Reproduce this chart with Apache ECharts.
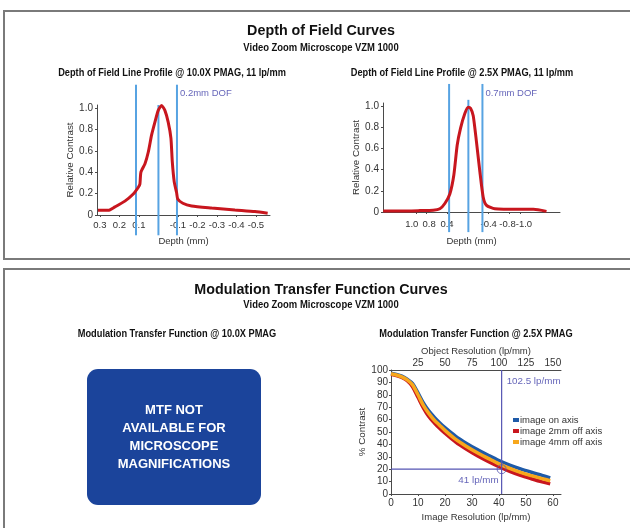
<!DOCTYPE html>
<html><head><meta charset="utf-8">
<script src="https://cdn.jsdelivr.net/npm/echarts@6/dist/echarts.min.js"></script>
<style>html,body{margin:0;padding:0;background:#fff}#c{width:630px;height:528px}</style>
</head><body><div id="c"></div>
<script>
// ---- Depth of field @ 10.0X ----
const dof10Depth = [0.31, 0.257, 0.223, 0.172, 0.129, 0.103, 0.095, 0.09, 0.069, 0.052, 0.035, 0.018, 0.001, -0.016, -0.033, -0.05, -0.064, -0.071, -0.081, -0.093, -0.099, -0.125, -0.17, -0.273, -0.392, -0.495, -0.56];
const dof10Contrast = [0.044, 0.044, 0.076, 0.13, 0.196, 0.26, 0.29, 0.40, 0.48, 0.59, 0.75, 0.87, 0.98, 1.025, 0.98, 0.87, 0.72, 0.50, 0.31, 0.21, 0.15, 0.11, 0.085, 0.066, 0.047, 0.032, 0.016];
const dof10Lines = [0.115, 0, -0.095];
const dof10Ticks = [0.3, 0.2, 0.1, -0.1, -0.2, -0.3, -0.4, -0.5];
const dof10Label = '0.2mm DOF';
// ---- Depth of field @ 2.5X ----
const dof25Depth = [1.625, 1.308, 0.923, 0.666, 0.538, 0.442, 0.346, 0.269, 0.205, 0.141, 0.058, -0.007, -0.051, -0.103, -0.166, -0.231, -0.295, -0.359, -0.519, -1.0, -1.26, -1.51];
const dof25Contrast = [0.01, 0.01, 0.013, 0.016, 0.03, 0.08, 0.17, 0.35, 0.63, 0.79, 0.93, 0.99, 0.98, 0.91, 0.66, 0.38, 0.14, 0.063, 0.03, 0.025, 0.025, 0.006];
const dof25Lines = [0.36, -0.01, -0.28];
const dof25Ticks = [0.8, 0.4, -0.4, -0.8];
const dof25OuterTicks = [1.0, -1.0];
const dof25Label = '0.7mm DOF';
const contrastTicks = [0, 0.2, 0.4, 0.6, 0.8, 1.0];
// ---- MTF @ 2.5X ----
const mtfImageRes = [0, 2, 4, 6, 8, 10, 12, 14, 16, 18, 20, 24, 28, 32, 36, 40, 44, 48, 52, 56, 59];
const mtfOnAxis = [97.5, 96.5, 95, 92.5, 89, 81.5, 73.5, 67, 62, 57.5, 53.5, 46.5, 40.8, 35.8, 31.3, 27, 23.3, 20.2, 17.5, 15, 13];
const mtf2mm = [96.5, 95.5, 94, 91.3, 86.5, 78, 69.5, 62.5, 57.5, 53, 49, 41.8, 36, 30.8, 26.2, 22, 18.3, 15, 12.3, 9.8, 8.3];
const mtf4mm = [97, 96, 94.5, 92, 88, 80, 71.5, 65, 59.7, 55.5, 51.3, 44, 38.3, 33.2, 28.7, 24.3, 20.6, 17.4, 14.8, 12.4, 10.7];
const mtfNames = ['image on axis', 'image 2mm off axis', 'image 4mm off axis'];
const mtfCutImage = 41, mtfCutObject = 102.5, mtfCutContrast = 20;
const imageResTicks = [0, 10, 20, 30, 40, 50, 60];
const objectResTicks = [25, 50, 75, 100, 125, 150];
const pctTicks = [0, 10, 20, 30, 40, 50, 60, 70, 80, 90, 100];

const FF = '"Liberation Sans", Arial, sans-serif';
const AX = '#4a4a4a', TXT = '#333', BLUE = '#57a3e2', RED = '#c8161e', PURP = '#5555b3', LBL = '#3c3ca6';
// horizontal nudges (px) of some 2.5X depth labels, to mimic the hand-placed labels of the original
const dof25LabelNudge = { '1.0': -4, '0.8': 3, '-0.8': -2, '-1.0': 4 };

const zip = (a, b) => a.map((v, i) => [v, b[i]]);
const fmt1 = v => v === 0 ? '0' : v.toFixed(1);
const nudgeFmt = v => {
  const s = fmt1(v), n = dof25LabelNudge[s] || 0;
  return n < 0 ? '{l' + (-n) + '|' + s + '}' : n > 0 ? '{r' + n + '|' + s + '}' : '{c|' + s + '}';
};
const nudgeRich = (() => {
  const r = { c: { color: TXT, fontSize: 9.5, fontFamily: FF } };
  for (let i = 1; i <= 6; i++) {
    r['l' + i] = { padding: [0, 2 * i, 0, 0], color: TXT, fontSize: 9.5, fontFamily: FF };
    r['r' + i] = { padding: [0, 0, 0, 2 * i], color: TXT, fontSize: 9.5, fontFamily: FF };
  }
  return r;
})();

function dofX(grid, min, max, ticks, margin, gap, nudge) {
  const a = {
    gridIndex: grid, type: 'value', position: 'bottom', inverse: true, min: min, max: max,
    axisLine: { onZero: true, lineStyle: { color: AX, width: 1 } },
    axisTick: { show: true, length: 2, customValues: ticks, lineStyle: { color: AX } },
    axisLabel: { customValues: ticks, formatter: fmt1, color: TXT, fontSize: 9.5, fontFamily: FF, margin: margin, hideOverlap: false },
    splitLine: { show: false },
    name: 'Depth (mm)', nameLocation: 'middle', nameGap: gap,
    nameTextStyle: { color: TXT, fontSize: 9.5, fontFamily: FF }
  };
  if (nudge) { a.axisLabel.formatter = nudgeFmt; a.axisLabel.rich = nudgeRich; }
  return a;
}
function dofY(grid) {
  return {
    gridIndex: grid, type: 'value', min: 0, max: 1.03,
    axisLine: { show: true, onZero: false, lineStyle: { color: AX, width: 1 } },
    axisTick: { show: true, length: 2, customValues: contrastTicks, lineStyle: { color: AX } },
    axisLabel: { customValues: contrastTicks, formatter: fmt1, color: TXT, fontSize: 10, fontFamily: FF, margin: 4 },
    splitLine: { show: false },
    name: 'Relative Contrast', nameLocation: 'middle', nameGap: 20, nameRotate: 90,
    nameTextStyle: { color: TXT, fontSize: 9.8, fontFamily: FF }
  };
}
function dofSeries(idx, depth, contrast, lines, lineTops, arrowY, labelY, label) {
  const out = [];
  lines.forEach((x, i) => {
    const s = {
      type: 'line', xAxisIndex: idx, yAxisIndex: idx, clip: false, silent: true,
      symbol: 'none', lineStyle: { color: BLUE, width: 2 },
      data: [[x, -0.19], [x, lineTops[i]]], z: 2
    };
    if (i === 0) {
      s.markLine = {
        silent: true, symbol: ['arrow', 'arrow'], symbolSize: [6, 8],
        lineStyle: { color: '#222', width: 1, type: 'solid' }, label: { show: false },
        data: [[{ coord: [lines[0], arrowY] }, { coord: [lines[2], arrowY] }]]
      };
    }
    out.push(s);
  });
  out.push({
    type: 'line', xAxisIndex: idx, yAxisIndex: idx, clip: false, smooth: 0.2,
    symbol: 'none', lineStyle: { color: RED, width: 3 }, data: zip(depth, contrast), z: 3
  });
  out.push({
    type: 'scatter', xAxisIndex: idx, yAxisIndex: idx, clip: false, symbolSize: 0,
    data: [[lines[2], labelY]],
    label: { show: true, position: 'right', distance: 3, formatter: label, color: LBL, fontSize: 9.5, fontFamily: FF }
  });
  return out;
}

const dof25Outer = dofX(1, -1.769, 1.629, dof25OuterTicks, 7, 24, true);
dof25Outer.axisLine.show = false;
delete dof25Outer.name;

const option = {
  animation: false,
  grid: [
    { left: 97, top: 105, width: 173, height: 110 },
    { left: 383, top: 103, width: 177, height: 109 },
    { left: 391, top: 370, width: 170, height: 124 }
  ],
  xAxis: [
    dofX(0, -0.572, 0.315, dof10Ticks, 5, 21),
    dofX(1, -1.769, 1.629, dof25Ticks, 7, 24, true),
    {
      gridIndex: 2, type: 'value', min: 0, max: 63,
      axisLine: { onZero: false, lineStyle: { color: AX } },
      axisTick: { length: 2, customValues: imageResTicks, lineStyle: { color: AX } },
      axisLabel: { customValues: imageResTicks, color: TXT, fontSize: 10, fontFamily: FF, margin: 4 },
      splitLine: { show: false },
      name: 'Image Resolution (lp/mm)', nameLocation: 'middle', nameGap: 18,
      nameTextStyle: { color: TXT, fontSize: 9.5, fontFamily: FF }
    },
    {
      gridIndex: 2, type: 'value', position: 'top', min: 0, max: 157.5,
      axisLine: { onZero: false, lineStyle: { color: AX } },
      axisTick: { show: false },
      axisLabel: { customValues: objectResTicks, color: TXT, fontSize: 10, fontFamily: FF, margin: 2 },
      splitLine: { show: false },
      name: 'Object Resolution (lp/mm)', nameLocation: 'middle', nameGap: 14,
      nameTextStyle: { color: TXT, fontSize: 9.5, fontFamily: FF }
    },
    dof25Outer
  ],
  yAxis: [
    dofY(0), dofY(1),
    {
      gridIndex: 2, type: 'value', min: 0, max: 100,
      axisLine: { show: true, onZero: false, lineStyle: { color: AX } },
      axisTick: { show: true, length: 2, customValues: pctTicks, lineStyle: { color: AX } },
      axisLabel: { customValues: pctTicks, color: TXT, fontSize: 10, fontFamily: FF, margin: 3 },
      splitLine: { show: false },
      name: '% Contrast', nameLocation: 'middle', nameGap: 20, nameRotate: 90,
      nameTextStyle: { color: TXT, fontSize: 9.8, fontFamily: FF }
    }
  ],
  legend: {
    left: 508, top: 410, orient: 'vertical', itemWidth: 6, itemHeight: 4, itemGap: 1,
    icon: 'rect', data: mtfNames, selectedMode: false,
    textStyle: { color: TXT, fontSize: 9.5, fontFamily: FF, padding: [0, 0, 0, -4] }
  },
  series: [
    ...dofSeries(0, dof10Depth, dof10Contrast, dof10Lines, [1.22, 1.03, 1.22], 1.16, 1.135, dof10Label),
    ...dofSeries(1, dof25Depth, dof25Contrast, dof25Lines, [1.21, 1.06, 1.21], 1.155, 1.12, dof25Label),
    { name: mtfNames[0], type: 'line', xAxisIndex: 2, yAxisIndex: 2, smooth: 0.3, symbol: 'none',
      color: '#1e5aa8', lineStyle: { width: 3.5, color: '#1e5aa8' }, data: zip(mtfImageRes, mtfOnAxis), z: 3 },
    { name: mtfNames[1], type: 'line', xAxisIndex: 2, yAxisIndex: 2, smooth: 0.3, symbol: 'none',
      color: '#c8161e', lineStyle: { width: 3.5, color: '#c8161e' }, data: zip(mtfImageRes, mtf2mm), z: 3 },
    { name: mtfNames[2], type: 'line', xAxisIndex: 2, yAxisIndex: 2, smooth: 0.3, symbol: 'none',
      color: '#f7a71c', lineStyle: { width: 3.5, color: '#f7a71c' }, data: zip(mtfImageRes, mtf4mm), z: 4 },
    { type: 'line', xAxisIndex: 2, yAxisIndex: 2, symbol: 'none', silent: true, z: 5,
      lineStyle: { color: PURP, width: 1.2 }, data: [[mtfCutImage, 0], [mtfCutImage, 100]] },
    { type: 'line', xAxisIndex: 2, yAxisIndex: 2, symbol: 'none', silent: true, z: 5,
      lineStyle: { color: PURP, width: 1.2 }, data: [[0, mtfCutContrast], [mtfCutImage, mtfCutContrast]] },
    { type: 'scatter', xAxisIndex: 2, yAxisIndex: 2, symbol: 'circle', symbolSize: 9, z: 6, silent: true,
      itemStyle: { color: 'rgba(0,0,0,0)', borderColor: PURP, borderWidth: 1 },
      data: [[mtfCutImage, mtfCutContrast]] },
    { type: 'scatter', xAxisIndex: 2, yAxisIndex: 2, symbolSize: 0, z: 6, silent: true,
      data: [[mtfCutImage, 90.5]],
      label: { show: true, position: 'right', distance: 5, formatter: mtfCutObject + ' lp/mm', color: LBL, fontSize: 9.8, fontFamily: FF } },
    { type: 'scatter', xAxisIndex: 2, yAxisIndex: 2, symbolSize: 0, z: 6, silent: true,
      data: [[mtfCutImage, 11.3]],
      label: { show: true, position: 'left', distance: 3, formatter: mtfCutImage + ' lp/mm', color: LBL, fontSize: 9.8, fontFamily: FF } }
  ],
  graphic: [
    { type: 'rect', shape: { x: 4, y: 11, width: 700, height: 248 }, style: { fill: 'none', stroke: '#7a7a7a', lineWidth: 2 }, silent: true },
    { type: 'rect', shape: { x: 4, y: 269, width: 700, height: 300 }, style: { fill: 'none', stroke: '#7a7a7a', lineWidth: 2 }, silent: true },
    { type: 'rect', shape: { x: 87, y: 369, width: 174, height: 136, r: 11 }, style: { fill: '#1b449b' }, silent: true },
    { type: 'text', x: 174, y: 437, silent: true, style: { text: 'MTF NOT\nAVAILABLE FOR\nMICROSCOPE\nMAGNIFICATIONS', fill: '#fff',
      font: 'bold 13px ' + FF, lineHeight: 18, align: 'center', verticalAlign: 'middle', textAlign: 'center', textVerticalAlign: 'middle' } },
    ...[
      ['Depth of Field Curves', 321, 31, 'bold 14.3px ' + FF, 1],
      ['Video Zoom Microscope VZM 1000', 321, 48, 'bold 10.5px ' + FF, 0.9],
      ['Depth of Field Line Profile @ 10.0X PMAG, 11 lp/mm', 172, 73, 'bold 10.5px ' + FF, 0.88],
      ['Depth of Field Line Profile @ 2.5X PMAG, 11 lp/mm', 462, 73, 'bold 10.5px ' + FF, 0.88],
      ['Modulation Transfer Function Curves', 321, 290, 'bold 14.3px ' + FF, 1],
      ['Video Zoom Microscope VZM 1000', 321, 305, 'bold 10.5px ' + FF, 0.9],
      ['Modulation Transfer Function @ 10.0X PMAG', 177, 334, 'bold 10.5px ' + FF, 0.88],
      ['Modulation Transfer Function @ 2.5X PMAG', 476, 334, 'bold 10.5px ' + FF, 0.88]
    ].map(t => ({ type: 'text', x: t[1], y: t[2], scaleX: t[4], silent: true,
      style: { text: t[0], font: t[3], fill: '#111', align: 'center', verticalAlign: 'middle', textAlign: 'center', textVerticalAlign: 'middle' } }))
  ]
};
const chart = echarts.init(document.getElementById('c'), null, { renderer: 'canvas' });
chart.setOption(option);
</script></body></html>
